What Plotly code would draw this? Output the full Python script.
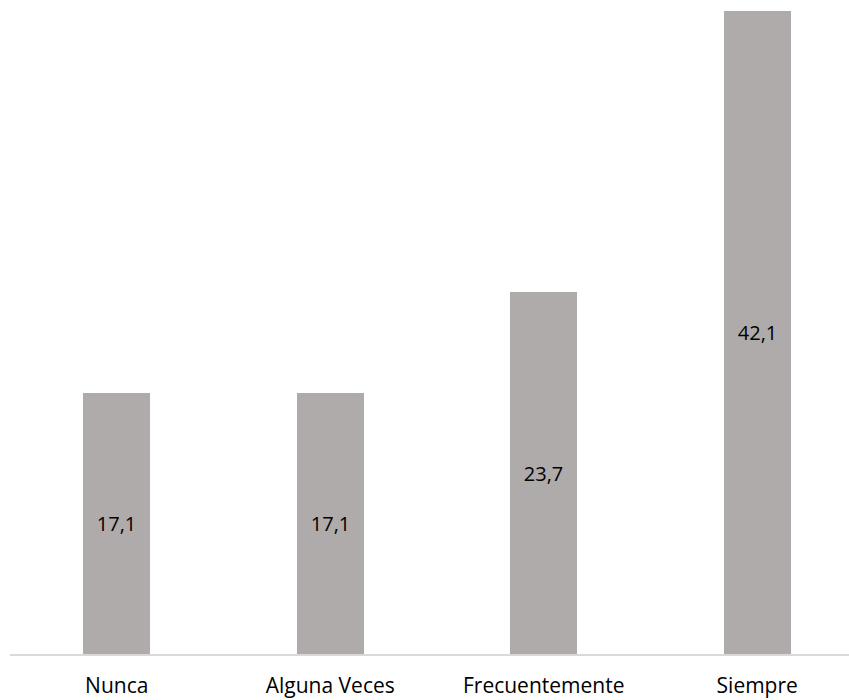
import plotly.graph_objects as go

categories = ["Nunca", "Alguna Veces", "Frecuentemente", "Siempre"]
values = [17.1, 17.1, 23.7, 42.1]

fig = go.Figure(go.Bar(
    x=categories,
    y=values,
    marker=dict(color="#AFABAB", line=dict(width=0)),
    width=0.314,
    texttemplate="%{y:.1f}",
    textposition="inside",
    insidetextanchor="middle",
    textangle=0,
    textfont=dict(family="Open Sans", size=20, color="#000000"),
))

fig.update_layout(
    width=849, height=700,
    margin=dict(l=10, r=0, t=0, b=46),
    paper_bgcolor="white", plot_bgcolor="white",
    separators=",.",
    showlegend=False,
    font=dict(family="Open Sans", size=20, color="#000000"),
    bargap=0,
)
fig.update_xaxes(
    range=[-0.5, 3.43],
    showline=True, linecolor="#D9D9D9", linewidth=1.5,
    showgrid=False, ticks="", zeroline=False,
    tickfont=dict(family="Open Sans", size=21, color="#000000"),
    ticklabelstandoff=12,
)
fig.update_yaxes(
    range=[0, 42.83],
    visible=False, showgrid=False, zeroline=False,
)

fig.write_html(
    "out.html",
    config={"displayModeBar": False},
    post_script="document.body.style.margin='0';document.body.style.padding='0';",
)
